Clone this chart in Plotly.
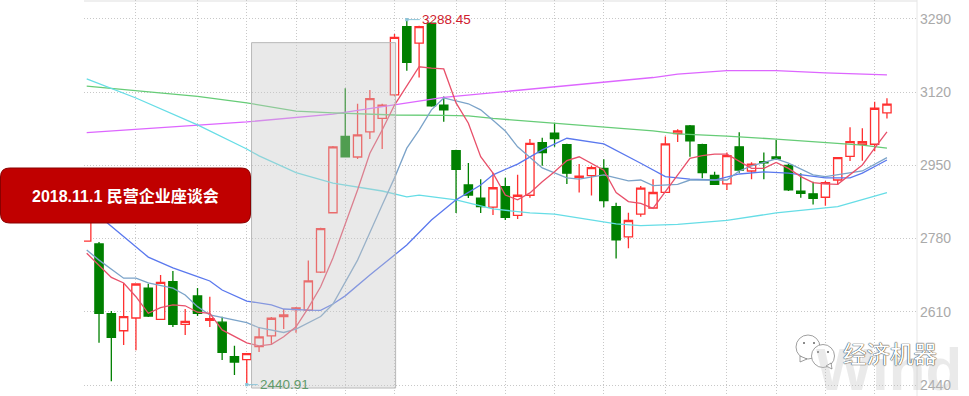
import plotly.graph_objects as go

# Candles (index 0 is partly hidden behind the banner)
opens = [2774,2767.5,2605.6,2566,2595.6,2665,2592.6,2680,2581,2646.7,2590,2586,2505.7,2498.8,2529,2554,2599,2615,2614,2702,2840,3017,2969.5,3028,3059,3113.5,3272,3234,3280,3090,2984,2904.5,2874,2853,2900.5,2834,2880.6,3003,3025,2998,2922,2926,2943,2854,2784,2837,2851,2887.5,3024,3041.5,2998,2927,2907,2993,2937,2958.6,2969.5,2950,2890,2884,2876,2916,2971,2999,2999,3072]
highs = [2858,2772,2612,2677,2676,2675,2695.5,2705,2616.5,2665,2645,2598.6,2531,2514,2575,2598,2616.5,2621,2729,2805,2995,3129,3093,3125,3093,3255,3288.45,3274,3281,3110,2986,2955.6,2918,2933,2921,2928,3011,3014,3049,3000,2953,2949,2964,2863,2840,2902,2918,3017,3034,3044,3000,2935,2980,3027,2957,2980,3009,2953,2932,2912,2914,2969.5,3038.5,3036,3098,3106]
lows = [2774,2538,2449,2533,2521,2598,2591,2575,2556,2600,2575,2498,2463,2440.91,2516.6,2533,2570,2561.5,2612,2700,2839,2969.5,2965,3011,2988,3111,3170,3154,3086,3051.5,2839.5,2874,2839.5,2835,2823,2825.5,2875,2949,2993,2907,2887,2880,2853,2734,2757.5,2831,2849,2886,3004,2970,2920,2904.5,2893,2933,2918,2918,2962.5,2890.5,2875,2859,2856,2904.5,2960,2961,2983,3059]
closes = [2846,2606.5,2550.8,2598.6,2674.6,2600,2678.5,2581,2588,2606.5,2594,2516,2493.4,2512.7,2552,2595,2602.6,2619,2682,2803,2993,2970,3021,3105,3090,3247,3189,3272,3088,3079,2941,2881,2854,2898,2829.5,2880.6,3001,2979.5,3012,2932,2925,2945,2868,2777,2822,2897,2887,3000,3030,3007,2933,2906,2972.5,2939,2953,2955.6,2965,2893,2885,2873.6,2910,2968,3005,3005,3082.6,3092]
candle_idx = list(range(len(opens)))

# Moving averages, read at the candle positions where they could be read
ma5_idx = [0,2,3,4,5,6,7,8,9,10,11,13,14,15,16,17,18,19,20,21,22,23,24,25,26,27,28,29,30,31,32,33,34,35,36,37,38,39,40,41,42,43,44,45,46,47,48,49,50,51,52,53,54,55,56,57,58,59,60,61,62,63,64,65]
ma5 = [2746,2690,2677,2645,2606.5,2619.5,2626,2624,2609,2606.5,2568,2538,2531,2534.5,2552,2575,2619,2668,2735,2814,2893,2978,3032,3090,3134,3179,3176,3174,3095,3048,2970,2932,2881,2870,2886,2912,2935,2961,2970,2955,2939,2887,2866,2862,2850,2889,2928,2966.5,2972.5,2976,2976,2958.6,2943,2943,2957,2943,2924,2910,2907,2906,2928,2951,2990,3028]
ma10_idx = [0,1,3,4,5,7,8,9,10,13,14,16,17,19,20,22,24,25,26,27,28,29,31,32,33,34,35,37,39,40,42,43,44,45,46,48,49,52,53,54,55,56,57,59,60,62,63,65]
ma10 = [2753.5,2730,2688,2688,2677,2665,2649,2622,2602.6,2585,2573,2562,2570,2599,2628,2730,2858,2921,2990,3032,3079,3106.5,3093,3079,3055,3030,2993,2944,2921,2918,2928,2921,2914,2916,2903,2906,2916,2916,2937,2948.6,2956,2965,2955,2928,2924,2933,2937,2968]
ma20_idx = [0,1,5,7,9,10,11,13,15,16,18,19,20,21,23,25,26,28,30,32,33,35,37,39,42,45,46,47,49,51,53,55,57,60,62,63,65]
ma20 = [2858,2832.5,2737,2712,2691.5,2681.5,2660.6,2635,2626,2616.5,2614,2613.5,2628,2647,2695.5,2742,2765,2823,2870,2904.5,2928,2953,2986,3013,3000,2955,2939,2924,2918,2916,2930,2935,2932,2921,2921,2932,2962.5]
ma60_idx = [0,4,9,13,14,17,20,24,26,27,30,33,36,38,43,45,48,52,56,60,61,65]
ma60 = [3150.6,3106.5,3044,2988,2972,2933,2909,2890.5,2877,2881,2870,2849,2839.5,2837,2814,2810,2813,2822.5,2839.5,2852,2854,2887]
ma120_idx = [0,9,13,17,20,25,29,31,33,38,42,46,48,52,56,60,63,65]
ma120 = [3134,3110,3095,3076,3072,3067,3066,3065,3059,3048,3039,3030,3023,3018,3011,3003,2997,2990]
ma250_idx = [0,9,13,20,25,29,46,48,52,56,60,65]
ma250 = [3026,3044,3051,3069,3090,3108,3154,3162,3170,3170,3165,3160]

y_ticks = [2440,2610,2780,2950,3120,3290]
x_grid = [4,9,13,17,21,25,30,34,38,42,47,52,56,60,64]
banner_text = "2018.11.1 民营企业座谈会"
high_label, low_label = "3288.45", "2440.91"

W, H = 969, 396
L, R = 84, 917
px = lambda x: (x - L) / (R - L)
py = lambda y: 1 - y / H
LATIN = "Liberation Sans, Arial, Noto Sans CJK SC, sans-serif"

fig = go.Figure()
fig.add_trace(go.Candlestick(
    x=candle_idx, open=opens, high=highs, low=lows, close=closes,
    increasing=dict(line=dict(color="#ff3030", width=1.3), fillcolor="#ffffff"),
    decreasing=dict(line=dict(color="#008000", width=1.3), fillcolor="#008000"),
    whiskerwidth=0, showlegend=False, hoverinfo="skip"))
for xs, ys, col in [(ma250_idx, ma250, "#dd66ff"), (ma120_idx, ma120, "#66cc77"),
                    (ma60_idx, ma60, "#66dde6"), (ma20_idx, ma20, "#5a78ee"),
                    (ma10_idx, ma10, "#7ba3c9"), (ma5_idx, ma5, "#e8506a")]:
    fig.add_trace(go.Scatter(x=xs, y=ys, mode="lines", line=dict(color=col, width=1.3),
                             showlegend=False, hoverinfo="skip"))

def rounded(x0, y0, x1, y1, r):
    a, b, c, d = px(x0), py(y0), px(x1), py(y1)
    rx, ry = r / (R - L), r / H
    return (f"M {a+rx},{b} L {c-rx},{b} Q {c},{b} {c},{b-ry} L {c},{d+ry} Q {c},{d} {c-rx},{d} "
            f"L {a+rx},{d} Q {a},{d} {a},{d+ry} L {a},{b-ry} Q {a},{b} {a+rx},{b} Z")

def bubble(cx, cy, r):
    return dict(type="circle", xref="paper", yref="paper", x0=px(cx-r), x1=px(cx+r),
                y0=py(cy+r), y1=py(cy-r), fillcolor="#ffffff", line=dict(color="#777", width=0.7))

shapes = [
    dict(type="rect", xref="x", yref="y", x0=13.39, x1=25.09, y0=2433, y1=3235,
         fillcolor="rgba(200,200,200,0.4)", line=dict(color="#b8b8b8", width=1), layer="above"),
    dict(type="rect", xref="paper", yref="paper", x0=0, x1=1, y0=py(2), y1=1,
         fillcolor="#efefef", line=dict(width=0), layer="below"),
    dict(type="line", xref="paper", yref="paper", x0=1, x1=1, y0=0, y1=1,
         line=dict(color="#e6e6e6", width=1), layer="below"),
    dict(type="path", xref="paper", yref="paper", path=rounded(0.5, 168, 250.5, 223, 9),
         fillcolor="#c00000", line=dict(color="#8a0000", width=1)),
    bubble(808, 347, 12),
    dict(type="path", xref="paper", yref="paper",
         path=f"M {px(800)},{py(356)} L {px(800)},{py(362)} L {px(807)},{py(359)} Z",
         fillcolor="#ffffff", line=dict(color="#777", width=0.7)),
    bubble(823, 356, 11.5),
    dict(type="path", xref="paper", yref="paper",
         path=f"M {px(826)},{py(366)} L {px(832)},{py(369)} L {px(831)},{py(363)} Z",
         fillcolor="#ffffff", line=dict(color="#777", width=0.7)),
]
for ex, ey in [(804, 343), (814, 343), (818, 352), (828, 352)]:
    shapes.append(dict(type="circle", xref="paper", yref="paper", x0=px(ex-1), x1=px(ex+1),
                       y0=py(ey+1), y1=py(ey-1), fillcolor="#666", line=dict(width=0)))

annotations = [
    dict(xref="paper", yref="paper", x=px(814), y=py(334), text="<b>Wind</b>", showarrow=False,
         xanchor="left", yanchor="top", font=dict(family=LATIN, size=60, color="rgba(190,190,190,0.32)")),
    dict(xref="paper", yref="paper", x=px(125.5), y=py(196), text=f"<b>{banner_text}</b>", showarrow=False,
         xanchor="center", yanchor="middle", font=dict(family=LATIN, size=16, color="#ffffff")),
    dict(x=26, y=3288.45, text=high_label, showarrow=True, ax=13, ay=0, axref="pixel", ayref="pixel",
         xanchor="left", arrowhead=7, arrowsize=0.8, arrowwidth=1, arrowcolor="#8cc4d8",
         font=dict(family=LATIN, size=13.5, color="#d0202e")),
    dict(x=13, y=2440.91, text=low_label, showarrow=True, ax=11, ay=0, axref="pixel", ayref="pixel",
         xanchor="left", arrowhead=7, arrowsize=0.8, arrowwidth=1, arrowcolor="#8cc4d8",
         font=dict(family=LATIN, size=13.5, color="#5f9a6a")),
    dict(xref="paper", yref="paper", x=px(890), y=py(353), text="经济机器", showarrow=False,
         xanchor="center", yanchor="middle",
         font=dict(family="Noto Sans CJK SC", size=23.5, color="#ffffff", shadow="0 0 1px #222, 0 0 1px #222")),
]

fig.update_layout(
    width=W, height=H, margin=dict(l=L, r=W-R, t=0, b=0),
    paper_bgcolor="#ffffff", plot_bgcolor="#ffffff", boxgap=0.04,
    xaxis=dict(range=[-0.22, 67.44], tickvals=x_grid, showticklabels=False, showgrid=True,
               gridcolor="#c8c8c8", griddash="1px,2px", gridwidth=1, zeroline=False, showline=False,
               ticks="", rangeslider=dict(visible=False)),
    yaxis=dict(range=[2414.5, 3334], side="right", tickvals=y_ticks, ticktext=[str(v) for v in y_ticks],
               showgrid=True, gridcolor="#c8c8c8", griddash="1px,2px", gridwidth=1, zeroline=False,
               showline=False, ticks="", ticklabelstandoff=2,
               tickfont=dict(family=LATIN, size=14, color="#aaaaaa")),
    shapes=shapes, annotations=annotations, showlegend=False)

fig.write_html("out.html", config=dict(displayModeBar=False),
               post_script="document.body.style.margin='0';document.body.style.overflow='hidden';")
